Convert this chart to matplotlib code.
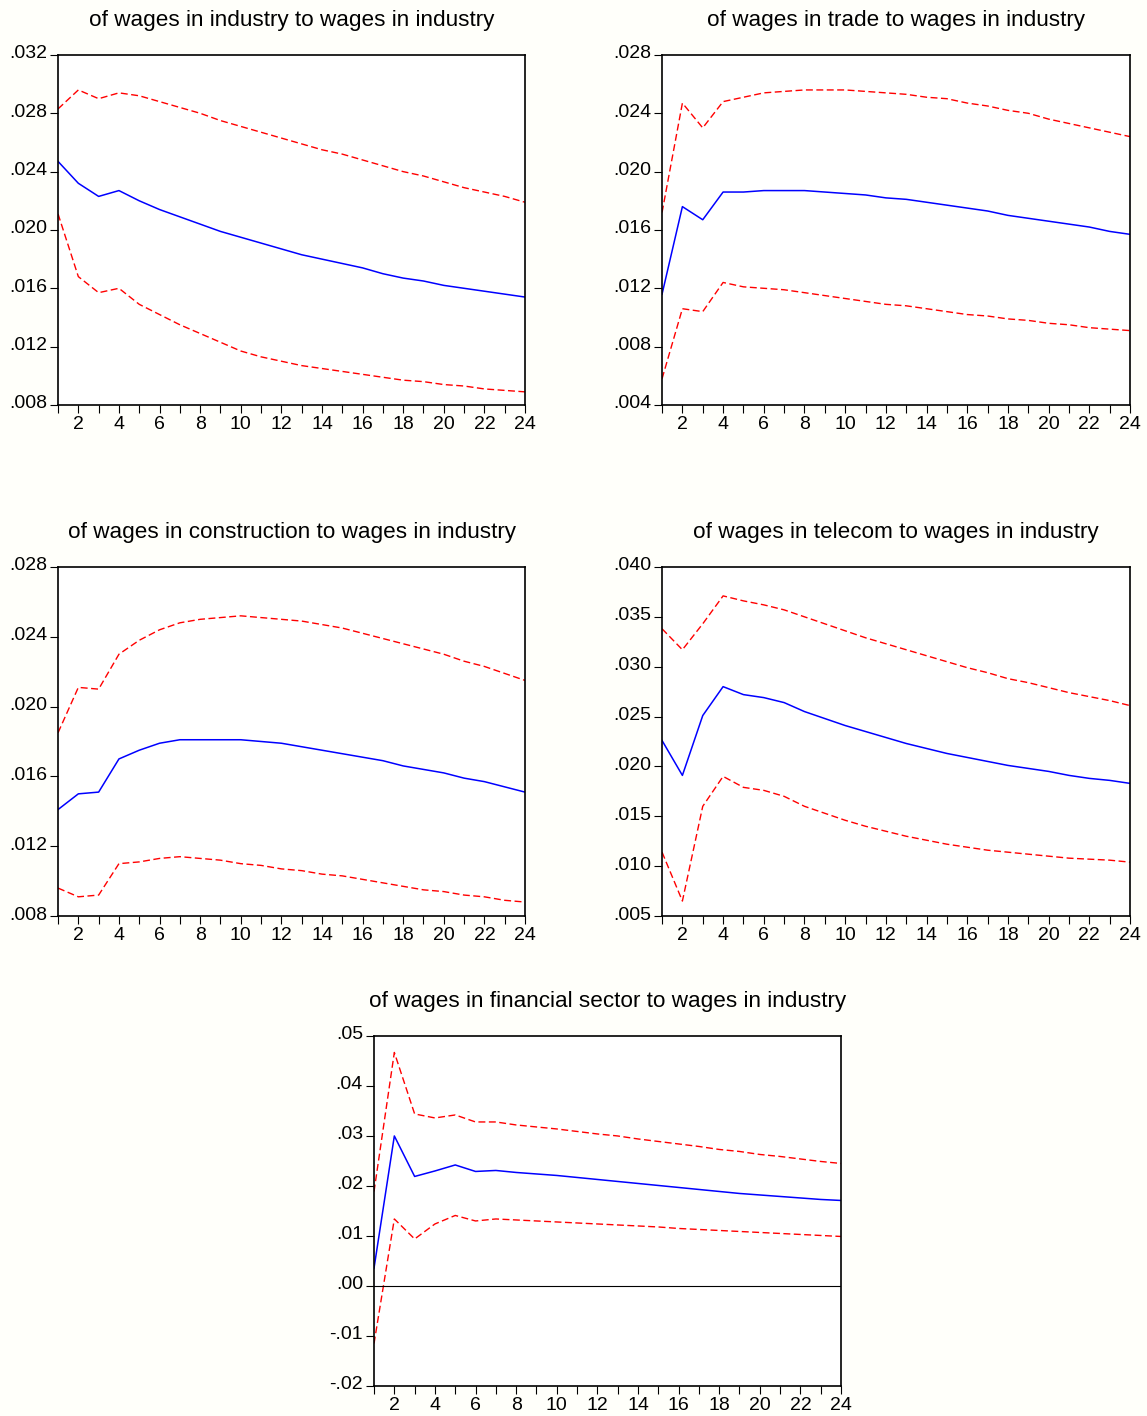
import numpy as np
import matplotlib
matplotlib.use('Agg')
import matplotlib.pyplot as plt
import matplotlib.transforms as mtransforms
from matplotlib.ticker import FixedLocator, FuncFormatter, MultipleLocator

plt.rcParams['font.family'] = ['Liberation Sans', 'DejaVu Sans']

periods = np.arange(1, 25)

# response of wages in industry
ind_resp = [.0247, .0232, .0223, .0227, .0220, .0214, .0209, .0204, .0199, .0195, .0191, .0187,
            .0183, .0180, .0177, .0174, .0170, .0167, .0165, .0162, .0160, .0158, .0156, .0154]
ind_up = [.0283, .0296, .0290, .0294, .0292, .0288, .0284, .0280, .0275, .0271, .0267, .0263,
          .0259, .0255, .0252, .0248, .0244, .0240, .0237, .0233, .0229, .0226, .0223, .0219]
ind_lo = [.0211, .0168, .0157, .0160, .0149, .0142, .0135, .0129, .0123, .0117, .0113, .0110,
          .0107, .0105, .0103, .0101, .0099, .0097, .0096, .0094, .0093, .0091, .0090, .0089]

# trade
trd_resp = [.0116, .0176, .0167, .0186, .0186, .0187, .0187, .0187, .0186, .0185, .0184, .0182,
            .0181, .0179, .0177, .0175, .0173, .0170, .0168, .0166, .0164, .0162, .0159, .0157]
trd_up = [.0172, .0247, .0230, .0248, .0251, .0254, .0255, .0256, .0256, .0256, .0255, .0254,
          .0253, .0251, .0250, .0247, .0245, .0242, .0240, .0236, .0233, .0230, .0227, .0224]
trd_lo = [.0058, .0106, .0104, .0124, .0121, .0120, .0119, .0117, .0115, .0113, .0111, .0109,
          .0108, .0106, .0104, .0102, .0101, .0099, .0098, .0096, .0095, .0093, .0092, .0091]

# construction
con_resp = [.0141, .0150, .0151, .0170, .0175, .0179, .0181, .0181, .0181, .0181, .0180, .0179,
            .0177, .0175, .0173, .0171, .0169, .0166, .0164, .0162, .0159, .0157, .0154, .0151]
con_up = [.0185, .0211, .0210, .0230, .0238, .0244, .0248, .0250, .0251, .0252, .0251, .0250,
          .0249, .0247, .0245, .0242, .0239, .0236, .0233, .0230, .0226, .0223, .0219, .0215]
con_lo = [.0096, .0091, .0092, .0110, .0111, .0113, .0114, .0113, .0112, .0110, .0109, .0107,
          .0106, .0104, .0103, .0101, .0099, .0097, .0095, .0094, .0092, .0091, .0089, .0088]

# telecom
tel_resp = [.0226, .0191, .0251, .0280, .0272, .0269, .0264, .0255, .0248, .0241, .0235, .0229,
            .0223, .0218, .0213, .0209, .0205, .0201, .0198, .0195, .0191, .0188, .0186, .0183]
tel_up = [.0338, .0317, .0343, .0371, .0366, .0362, .0357, .0350, .0343, .0336, .0329, .0323,
          .0317, .0311, .0305, .0299, .0294, .0288, .0284, .0279, .0274, .0270, .0266, .0261]
tel_lo = [.0114, .0065, .0160, .0190, .0179, .0176, .0170, .0160, .0153, .0146, .0140, .0135,
          .0130, .0126, .0122, .0119, .0116, .0114, .0112, .0110, .0108, .0107, .0106, .0104]

# financial sector
fin_resp = [.0036, .0300, .0219, .0230, .0242, .0229, .0231, .0227, .0224, .0221, .0217, .0213,
            .0209, .0205, .0201, .0197, .0193, .0189, .0185, .0182, .0179, .0176, .0173, .0171]
fin_up = [.0189, .0467, .0344, .0336, .0342, .0328, .0328, .0322, .0318, .0314, .0309, .0304,
          .0300, .0294, .0289, .0284, .0279, .0273, .0269, .0263, .0259, .0254, .0249, .0245]
fin_lo = [-.0115, .0134, .0094, .0124, .0141, .0130, .0134, .0132, .0130, .0128, .0126, .0124,
          .0122, .0120, .0118, .0115, .0113, .0111, .0109, .0107, .0105, .0103, .0101, .0099]

titles = ['of wages in industry to wages in industry',
          'of wages in trade to wages in industry',
          'of wages in construction to wages in industry',
          'of wages in telecom to wages in industry',
          'of wages in financial sector to wages in industry']

panels = [
    (ind_resp, ind_up, ind_lo, (.008, .032), .004, 3, [0.0506, 0.714, 0.4071, 0.2472]),
    (trd_resp, trd_up, trd_lo, (.004, .028), .004, 3, [0.5772, 0.714, 0.4080, 0.2472]),
    (con_resp, con_up, con_lo, (.008, .028), .004, 3, [0.0506, 0.3531, 0.4071, 0.2465]),
    (tel_resp, tel_up, tel_lo, (.005, .040), .005, 3, [0.5772, 0.3531, 0.4080, 0.2465]),
    (fin_resp, fin_up, fin_lo, (-.02, .05), .01, 2, [0.3261, 0.0212, 0.4071, 0.2472]),
]


def eviews_fmt(dec):
    def f(v, pos):
        s = f'{v:.{dec}f}'
        if s.startswith('-0'):
            s = '-' + s[2:]
        elif s.startswith('0'):
            s = s[1:]
        return s
    return FuncFormatter(f)


fig = plt.figure(figsize=(11.47, 14.16), dpi=100, facecolor='#fffffa')
# eviews puts the y labels a touch above the tick
lift = mtransforms.ScaledTranslation(0, 3 / 100, fig.dpi_scale_trans)

for (resp, up, lo, ylim, ystep, dec, rect), title in zip(panels, titles):
    ax = fig.add_axes(rect)
    ax.set_facecolor('white')
    ax.plot(periods, up, color='#ff0000', lw=1, ls=(0, (5, 2.5)))
    ax.plot(periods, lo, color='#ff0000', lw=1, ls=(0, (5, 2.5)))
    ax.plot(periods, resp, color='#0000ff', lw=1.1)
    if ylim[0] < 0:
        ax.axhline(0, color='black', lw=0.8)
    ax.set_xlim(1, 24)
    ax.set_ylim(*ylim)
    ax.yaxis.set_major_locator(MultipleLocator(ystep))
    ax.yaxis.set_major_formatter(eviews_fmt(dec))
    ax.xaxis.set_major_locator(FixedLocator(np.arange(2, 25, 2)))
    ax.xaxis.set_minor_locator(FixedLocator(np.arange(1, 25, 2)))
    ax.tick_params(axis='both', which='both', direction='out', labelsize=14, width=0.8)
    ax.tick_params(axis='y', length=6, pad=2)
    ax.tick_params(axis='x', which='both', length=6, pad=2)
    for lab in ax.get_yticklabels():
        lab.set_transform(lab.get_transform() + lift)
    for sp in ax.spines.values():
        sp.set_linewidth(1.2)
    ax.set_title(title, fontsize=16.2, pad=21)

fig.savefig('out.png', dpi=100, facecolor=fig.get_facecolor())
